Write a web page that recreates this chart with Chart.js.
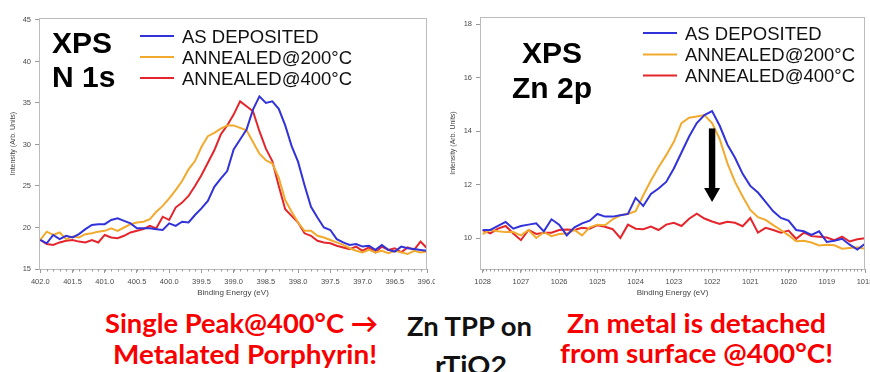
<!DOCTYPE html>
<html>
<head>
<meta charset="utf-8">
<script src="https://cdn.jsdelivr.net/npm/chart.js@4.4.1/dist/chart.umd.min.js"></script>
<style>
body{margin:0;background:#fff;width:870px;height:372px;overflow:hidden;position:relative}
canvas{position:absolute;top:0}
#left{left:0}
#right{left:440px}
.note{position:absolute;white-space:nowrap;font-family:Lato,sans-serif;font-weight:700;font-size:27px;line-height:1;transform-origin:0 0;color:#111}
.red{color:#f80000}
.note i{display:inline-block;width:0;height:0;vertical-align:baseline}
</style>
</head>
<body>
<canvas id="left" width="435" height="300"></canvas>
<canvas id="right" width="430" height="300"></canvas>

<div class="note red" data-x="105" data-base="333" data-w="273">Single Peak@400°C →</div>
<div class="note red" data-x="113" data-base="364" data-w="264">Metalated Porphyrin!</div>
<div class="note" data-x="407" data-base="336" data-w="125">Zn TPP on</div>
<div class="note" data-x="435" data-base="375" data-w="72">rTiO2</div>
<div class="note red" data-x="567" data-base="333" data-w="259">Zn metal is detached</div>
<div class="note red" data-x="560" data-base="363" data-w="273">from surface @400°C!</div>

<script>
// series names / colours
const seriesLabels = ['AS DEPOSITED', 'ANNEALED@200°C', 'ANNEALED@400°C']
const seriesColors = ['#3232da', '#f2aa2e', '#e4262c']

// N 1s
const nEnergy = [402.0,401.9,401.8,401.7,401.6,401.5,401.4,401.3,401.2,401.1,
  401.0,400.9,400.8,400.7,400.6,400.5,400.4,400.3,400.2,400.1,
  400.0,399.9,399.8,399.7,399.6,399.5,399.4,399.3,399.2,399.1,
  399.0,398.9,398.8,398.7,398.6,398.5,398.4,398.3,398.2,398.1,
  398.0,397.9,397.8,397.7,397.6,397.5,397.4,397.3,397.2,397.1,
  397.0,396.9,396.8,396.7,396.6,396.5,396.4,396.3,396.2,396.1,396.0]
const nAsDeposited = [18.5,18.1,19.1,18.6,19.0,18.8,19.2,19.8,20.3,20.4,
  20.4,20.9,21.1,20.8,20.5,19.9,19.9,19.9,19.8,19.7,
  20.5,20.2,20.7,20.6,21.5,22.3,23.2,24.9,25.9,26.8,
  29.4,30.6,31.8,34.2,35.8,35.0,35.2,34.3,32.3,29.8,
  27.9,25.1,22.5,21.2,20.0,19.7,18.6,18.2,17.9,18.0,
  17.7,17.8,17.3,17.9,17.3,17.1,17.7,17.5,17.4,17.3,17.2]
const nAnneal200 = [18.5,19.5,19.1,19.4,18.6,18.9,18.8,19.2,19.3,19.5,
  19.6,19.9,19.6,20.0,20.4,20.6,20.7,21.0,21.9,22.6,
  23.5,24.5,25.6,27.0,28.0,29.7,31.0,31.4,31.9,32.3,
  32.3,32.0,31.7,30.3,28.9,28.1,27.7,26.0,23.3,21.9,
  20.6,19.6,19.6,19.0,18.8,18.5,18.2,17.9,17.5,17.2,
  17.0,17.3,17.0,17.2,16.9,17.2,17.0,16.8,17.2,17.0,17.1]
const nAnneal400 = [18.5,18.0,17.9,18.2,18.4,18.5,18.3,18.2,18.5,18.2,
  19.1,18.8,18.7,19.0,19.4,19.6,19.8,20.2,19.9,21.3,
  20.9,22.4,23.0,23.8,25.0,26.3,27.8,29.3,31.2,32.3,
  33.6,35.2,34.6,34.0,31.6,29.5,28.0,25.0,22.2,21.4,
  20.6,19.3,19.0,18.4,18.2,18.1,17.8,17.6,17.4,17.7,
  17.2,17.6,17.0,17.7,17.3,17.5,17.0,17.6,17.3,18.3,17.5]
const nXTicks = [402.0,401.5,401.0,400.5,400.0,399.5,399.0,398.5,398.0,397.5,397.0,396.5,396.0]
const nYTicks = [15,20,25,30,35,40,45]

// Zn 2p
const znEnergy = [1028.0,1027.8,1027.6,1027.4,1027.2,1027.0,1026.8,1026.6,1026.4,1026.2,
  1026.0,1025.8,1025.6,1025.4,1025.2,1025.0,1024.8,1024.6,1024.4,1024.2,
  1024.0,1023.8,1023.6,1023.4,1023.2,1023.0,1022.8,1022.6,1022.4,1022.2,
  1022.0,1021.8,1021.6,1021.4,1021.2,1021.0,1020.8,1020.6,1020.4,1020.2,
  1020.0,1019.8,1019.6,1019.4,1019.2,1019.0,1018.8,1018.6,1018.4,1018.2,1018.0]
const znAsDeposited = [10.3,10.3,10.45,10.6,10.35,10.45,10.5,10.55,10.25,10.7,
  10.5,10.1,10.4,10.55,10.65,10.9,10.8,10.8,10.85,10.9,
  11.5,11.2,11.65,11.85,12.1,12.6,13.2,13.8,14.3,14.6,
  14.75,14.2,13.5,13.0,12.4,11.95,11.7,11.35,11.0,10.75,
  10.65,10.3,10.25,10.12,10.25,9.85,9.9,9.97,9.75,9.57,9.78]
const znAnneal200 = [10.15,10.3,10.25,10.22,10.22,10.1,10.3,10.0,10.22,10.07,
  10.15,10.17,10.3,10.1,10.4,10.5,10.48,10.7,10.85,10.9,
  11.0,11.6,12.15,12.65,13.1,13.6,14.3,14.5,14.55,14.6,
  14.3,13.7,12.8,12.1,11.55,11.05,10.78,10.68,10.48,10.3,
  10.1,9.88,9.9,9.83,9.72,9.75,9.73,9.6,9.63,9.65,9.6]
const znAnneal400 = [10.3,10.17,10.35,10.45,10.17,9.92,10.3,10.15,10.2,10.2,
  10.3,10.32,10.3,10.38,10.35,10.48,10.42,10.33,10.0,10.5,
  10.35,10.33,10.43,10.3,10.5,10.57,10.45,10.72,10.91,10.73,
  10.62,10.53,10.61,10.57,10.44,10.75,10.2,10.38,10.3,10.2,
  10.28,9.97,10.2,10.07,10.05,10.02,9.92,10.05,9.87,9.95,9.99]
const znXTicks = [1028,1027,1026,1025,1024,1023,1022,1021,1020,1019,1018]
const znYTicks = [10,12,14,16,18]

// arrow: binding energy, from / to intensity
const arrowE = 1022.0
const arrowFrom = 14.1
const arrowTo = 11.35

const FONT = '"Liberation Sans", Arial, sans-serif'

// frame, minor ticks, big title, legend, arrow
const overlay = {
  id: 'overlay',
  afterDraw(chart, args, o){
    const {ctx, chartArea: a, scales: {x, y}} = chart
    ctx.save()
    ctx.strokeStyle = '#bcbcbc'
    ctx.lineWidth = 1
    ctx.strokeRect(a.left + 0.5, a.top + 0.5, a.right - a.left - 1, a.bottom - a.top)

    // minor x ticks
    ctx.strokeStyle = '#9a9a9a'
    ctx.beginPath()
    const k0 = Math.ceil(x.min / o.minor - 1e-6), k1 = Math.floor(x.max / o.minor + 1e-6)
    for(let k = k0; k <= k1; k++){
      const px = Math.round(x.getPixelForValue(k * o.minor)) + 0.5
      ctx.moveTo(px, a.bottom)
      ctx.lineTo(px, a.bottom + 2.5)
    }
    ctx.stroke()

    // title
    ctx.fillStyle = '#000'
    ctx.font = 'bold 30px ' + FONT
    ctx.textAlign = o.titleAlign
    ctx.textBaseline = 'alphabetic'
    o.title.forEach((t, i) => ctx.fillText(t, o.titleX, o.titleY[i]))

    // legend
    ctx.textAlign = 'left'
    ctx.font = '18.5px ' + FONT
    chart.data.datasets.forEach((ds, i) => {
      const ly = o.legendY[i]
      ctx.strokeStyle = ds.borderColor
      ctx.lineWidth = 2
      ctx.beginPath()
      ctx.moveTo(o.legendX, ly)
      ctx.lineTo(o.legendX + 34, ly)
      ctx.stroke()
      ctx.fillStyle = '#111'
      ctx.fillText(ds.label, o.legendX + 42, ly + 6.8)
    })

    // arrow
    if(o.arrow){
      const ax = x.getPixelForValue(o.arrow.e)
      const y0 = y.getPixelForValue(o.arrow.from)
      const y1 = y.getPixelForValue(o.arrow.to)
      ctx.fillStyle = '#000'
      ctx.fillRect(ax - 3.2, y0, 6.4, y1 - y0 - 12)
      ctx.beginPath()
      ctx.moveTo(ax - 8, y1 - 14)
      ctx.lineTo(ax + 8, y1 - 14)
      ctx.lineTo(ax, y1)
      ctx.closePath()
      ctx.fill()
    }
    ctx.restore()
  }
}

function makeChart(id, energy, series, xr, yr, xTicks, yTicks, digits, pad, yWidth, extra){
  return new Chart(document.getElementById(id), {
    type: 'line',
    data: {
      datasets: series.map((vals, i) => ({
        label: seriesLabels[i],
        data: energy.map((e, j) => ({x: e, y: vals[j]})),
        borderColor: seriesColors[i],
        borderWidth: 2,
        pointRadius: 0,
        tension: 0,
        fill: false
      }))
    },
    options: {
      responsive: false,
      animation: false,
      devicePixelRatio: 1,
      layout: {padding: pad},
      plugins: {legend: {display: false}, tooltip: {enabled: false}, overlay: extra},
      scales: {
        x: {
          type: 'linear', reverse: true, min: xr[0], max: xr[1],
          afterBuildTicks: s => { s.ticks = xTicks.map(v => ({value: v})) },
          afterFit: s => { s.height = 31; s.paddingLeft = 0; s.paddingRight = 0 },
          ticks: {autoSkip: false, maxRotation: 0, padding: 4, color: '#4a4a4a',
            font: {family: FONT, size: 7.5}, callback: v => v.toFixed(digits)},
          grid: {drawOnChartArea: false, tickLength: 4, color: '#9a9a9a'},
          border: {display: false},
          title: {display: true, text: 'Binding Energy (eV)', color: '#444',
            font: {family: FONT, size: 8}, padding: {top: 0, bottom: 2}}
        },
        y: {
          type: 'linear', min: yr[0], max: yr[1],
          afterBuildTicks: s => { s.ticks = yTicks.map(v => ({value: v})) },
          afterFit: s => { s.width = yWidth; s.paddingTop = 0; s.paddingBottom = 0 },
          ticks: {padding: 4, color: '#4a4a4a', font: {family: FONT, size: 7.5}},
          grid: {drawOnChartArea: false, tickLength: 4, color: '#9a9a9a'},
          border: {display: false},
          title: {display: true, text: 'Intensity (Arb. Units)', color: '#444',
            font: {family: FONT, size: 7}, padding: {top: 9, bottom: 0}}
        }
      }
    },
    plugins: [overlay]
  })
}

makeChart('left', nEnergy, [nAsDeposited, nAnneal200, nAnneal400],
  [396.0, 402.02], [15, 45.24], nXTicks, nYTicks, 1,
  {left: 0, top: 18, right: 8, bottom: 0}, 39,
  {minor: 0.1, title: ['XPS', 'N 1s'], titleX: 52, titleAlign: 'left', titleY: [53, 87],
   legendX: 140, legendY: [36, 57, 78]})

makeChart('right', znEnergy, [znAsDeposited, znAnneal200, znAnneal400],
  [1018.0, 1028.07], [8.84, 18.27], znXTicks, znYTicks, 0,
  {left: 0, top: 17, right: 5, bottom: 0}, 40,
  {minor: 0.1, title: ['XPS', 'Zn 2p'], titleX: 112, titleAlign: 'center', titleY: [63, 98],
   legendX: 203, legendY: [33, 54.5, 75.5],
   arrow: {e: arrowE, from: arrowFrom, to: arrowTo}})

// place the slide notes: baseline + width fit
function placeNotes(){
  document.querySelectorAll('.note').forEach(el => {
    el.style.transform = 'none'
    el.style.left = el.dataset.x + 'px'
    el.style.top = '0px'
    let mark = el.querySelector('i')
    if(!mark){ mark = document.createElement('i'); el.appendChild(mark) }
    const baseOff = mark.offsetTop
    const w = el.getBoundingClientRect().width
    el.style.top = (el.dataset.base - baseOff) + 'px'
    el.style.transform = 'scaleX(' + (el.dataset.w / w) + ')'
  })
}
placeNotes()
if(document.fonts) document.fonts.ready.then(placeNotes)
</script>
</body>
</html>
